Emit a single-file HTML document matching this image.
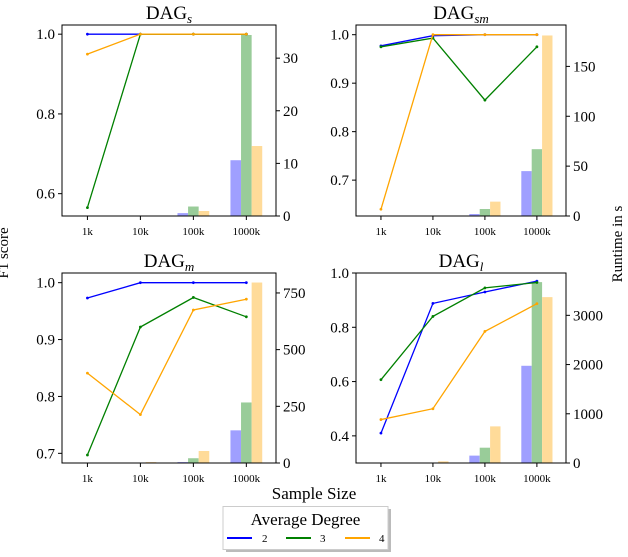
<!DOCTYPE html>
<html><head><meta charset="utf-8">
<style>
body{margin:0;background:#fff;}
svg text{font-family:"Liberation Serif","DejaVu Serif",serif;fill:#000;}
</style></head>
<body>
<svg id="fig" width="628" height="552" viewBox="0 0 628 552" xmlns="http://www.w3.org/2000/svg">
<text x="8" y="253" font-size="15" text-anchor="middle" transform="rotate(-90 8 253)">F1 score</text>
<text x="622" y="244" font-size="15" text-anchor="middle" transform="rotate(-90 622 244)">Runtime in s</text>
<text x="314" y="499" font-size="17" text-anchor="middle">Sample Size</text>
<g>
<rect x="226" y="509" width="165" height="43" fill="#bbb"/>
<rect x="223" y="506.5" width="165" height="43" fill="#fff" stroke="#ccc"/>
<text x="305.5" y="525" font-size="17" text-anchor="middle">Average Degree</text>
<line x1="227" y1="538" x2="252" y2="538" stroke="#0000ff" stroke-width="2"/>
<text x="262" y="542" font-size="11">2</text>
<line x1="286" y1="538" x2="311" y2="538" stroke="#008000" stroke-width="2"/>
<text x="320" y="542" font-size="11">3</text>
<line x1="345" y1="538" x2="370" y2="538" stroke="#ffa500" stroke-width="2"/>
<text x="379" y="542" font-size="11">4</text>
</g>
</svg>
<script>
const categories = ["1k","10k","100k","1000k"];
const titles = ["DAG","DAG","DAG","DAG"];
const subs = ["s","sm","m","l"];
// F1 scores [panel][degree][category]
const f1S = [[1,1,1,1],[0.565,1,1,1],[0.95,1,1,1]];
const f1SM = [[0.977,0.998,1,1],[0.975,0.993,0.865,0.975],[0.64,1,1,1]];
const f1M = [[0.973,1,1,1],[0.697,0.922,0.974,0.94],[0.841,0.768,0.952,0.971]];
const f1L = [[0.41,0.888,0.93,0.97],[0.607,0.84,0.945,0.965],[0.46,0.5,0.785,0.887]];
// Runtimes
const rtS = [[0,0,0.55,10.6],[0,0,1.8,34.4],[0,0,0.95,13.3]];
const rtSM = [[0,0,2,45],[0,0,7,67],[0,0.5,14.4,181]];
const rtM = [[0,0,4,144],[0,0,21,267],[0,4,53,796]];
const rtL = [[0,0,150,1975],[0,0,311,3675],[0,34,744,3370]];
// tick labels
const leftTicks = [[0.6,0.8,1.0],[0.7,0.8,0.9,1.0],[0.7,0.8,0.9,1.0],[0.4,0.6,0.8,1.0]];
const rightTicks = [[0,10,20,30],[0,50,100,150],[0,250,500,750],[0,1000,2000,3000]];
const leftDomain = [[0.544,1.023],[0.626,1.02],[0.683,1.017],[0.30,1.0]];
const rightDomain = [[0,36.3],[0,191.5],[0,838],[0,3860]];

const f1All=[f1S,f1SM,f1M,f1L], rtAll=[rtS,rtSM,rtM,rtL];
const lineCols=["#0000ff","#008000","#ffa500"];
const barCols=["#9f9fff","#99cc99","#ffdb99"];
const boxes=[{x0:62,x1:276,y0:25,y1:216},{x0:356,x1:566,y0:25,y1:216},{x0:62,x1:276,y0:273,y1:463},{x0:356,x1:566,y0:273,y1:463}];
const NS="http://www.w3.org/2000/svg";
const svg=document.getElementById('fig');
function mk(t,a,p){const e=document.createElementNS(NS,t);for(const k in a)e.setAttribute(k,a[k]);(p||svg).appendChild(e);return e;}
boxes.forEach((b,pi)=>{
  const g=mk('g',{});
  
  
  const step=(b.x1-b.x0)/4.04;
  const xs=i=>b.x0+step*(0.48+i);
  const yl=v=>b.y1-(v-leftDomain[pi][0])/(leftDomain[pi][1]-leftDomain[pi][0])*(b.y1-b.y0);
  const yr=v=>b.y1-(v-rightDomain[pi][0])/(rightDomain[pi][1]-rightDomain[pi][0])*(b.y1-b.y0);
  const bw=step*0.2;
  // bars
  rtAll[pi].forEach((ser,d)=>ser.forEach((v,i)=>{
    const y=yr(v);
    const r=mk('rect',{x:xs(i)+(d-1)*bw-bw/2,y:y,width:bw,height:Math.max(0,b.y1-y),fill:barCols[d]},g);
    
    
  }));
  // lines
  f1All[pi].forEach((ser,d)=>{
    const pts=ser.map((v,i)=>xs(i).toFixed(1)+','+yl(v).toFixed(1)).join(' ');
    const l=mk('polyline',{points:pts,fill:'none',stroke:lineCols[d],'stroke-width':1.3},g);
    
    
    ser.forEach((v,i)=>{
      const c=mk('circle',{cx:xs(i),cy:yl(v),r:1.4,fill:lineCols[d]},g);
      
      
    });
  });
  // frame
  const fr=mk('rect',{x:b.x0,y:b.y0,width:b.x1-b.x0,height:b.y1-b.y0,fill:'none',stroke:'#000','stroke-width':1},g);
  
  
  // title
  const t=mk('text',{x:(b.x0+b.x1)/2,y:b.y0-6,'font-size':19,'text-anchor':'middle'},g);
  t.textContent=titles[pi];
  const ts=mk('tspan',{'font-size':13,'font-style':'italic',dy:4},t);
  ts.textContent=subs[pi];
  
  
  // x ticks
  categories.forEach((c,i)=>{
    mk('line',{x1:xs(i),x2:xs(i),y1:b.y1,y2:b.y1+4,stroke:'#000'},g);
    const tx=mk('text',{x:xs(i),y:b.y1+19,'font-size':11,'text-anchor':'middle'},g);
    tx.textContent=c;
    
    
  });
  leftTicks[pi].forEach(v=>{
    const y=yl(v);
    mk('line',{x1:b.x0-4,x2:b.x0,y1:y,y2:y,stroke:'#000'},g);
    const tx=mk('text',{x:b.x0-7,y:y+5,'font-size':15,'text-anchor':'end'},g);
    tx.textContent=v.toFixed(1);
    
    
  });
  rightTicks[pi].forEach(v=>{
    const y=yr(v);
    mk('line',{x1:b.x1,x2:b.x1+4,y1:y,y2:y,stroke:'#000'},g);
    const tx=mk('text',{x:b.x1+7,y:y+5,'font-size':15},g);
    tx.textContent=String(v);
    
    
  });
});
</script>
</body></html>
